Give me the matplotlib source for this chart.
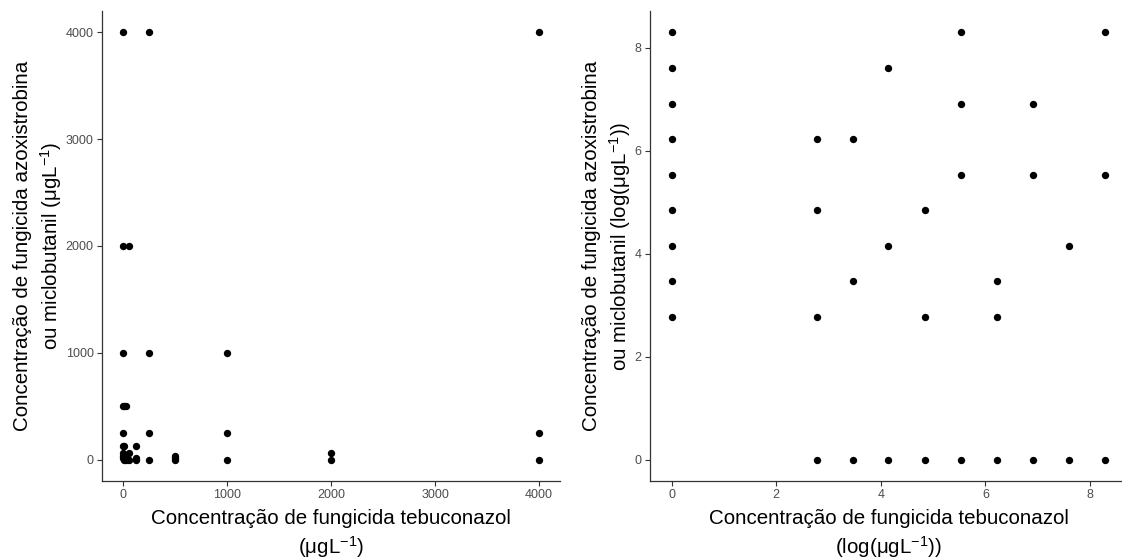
import numpy as np
import matplotlib
matplotlib.use("Agg")
import matplotlib.pyplot as plt

plt.rcParams['font.family'] = ['Liberation Sans', 'DejaVu Sans']
plt.rcParams['mathtext.fontset'] = 'custom'
plt.rcParams['mathtext.rm'] = 'Liberation Sans'
plt.rcParams['mathtext.it'] = 'Liberation Sans'

# Concentrations (µg/L)
tebuconazol = [0, 0, 0, 0, 0, 0, 0, 0, 0,
               15, 15, 15, 15,
               31, 31, 31,
               62, 62, 62,
               125, 125, 125,
               250, 250, 250, 250,
               500, 500, 500,
               1000, 1000, 1000,
               2000, 2000,
               4000, 4000, 4000]
azoxistrobina = [15, 31, 62, 125, 250, 500, 1000, 2000, 4000,
                 0, 15, 125, 500,
                 0, 31, 500,
                 0, 62, 2000,
                 0, 15, 125,
                 0, 250, 1000, 4000,
                 0, 15, 31,
                 0, 250, 1000,
                 0, 62,
                 0, 250, 4000]

left_ticks = [0, 1000, 2000, 3000, 4000]
right_ticks = [0, 2, 4, 6, 8]

x = np.array(tebuconazol, dtype=float)
y = np.array(azoxistrobina, dtype=float)
lx = np.log(x + 1)
ly = np.log(y + 1)

fig = plt.figure(figsize=(11.22, 5.6), dpi=100)
W, H = 1122, 560
ax1 = fig.add_axes([102 / W, (H - 481) / H, (560 - 102) / W, (481 - 11) / H])
ax2 = fig.add_axes([650 / W, (H - 481) / H, (1127 - 650) / W, (481 - 11) / H])

tick_col = '#4D4D4D'
for ax in (ax1, ax2):
    for s in ('top', 'right'):
        ax.spines[s].set_visible(False)
    for s in ('left', 'bottom'):
        ax.spines[s].set_linewidth(0.9)
        ax.spines[s].set_color('#333333')
    ax.tick_params(axis='both', length=3.5, width=0.8, color='#333333',
                   labelsize=9, labelcolor=tick_col, pad=2.5)

lab_kw = dict(fontsize=14.8, linespacing=1.3)

ax1.scatter(x, y, s=28, color='black', linewidths=0, zorder=3)
ax1.set_xlim(-200, 4200)
ax1.set_ylim(-200, 4200)
ax1.set_xticks(left_ticks)
ax1.set_yticks(left_ticks)
ax1.set_xlabel('Concentração de fungicida tebuconazol\n(μgL$^{-1}$)',
               labelpad=5.5, **lab_kw)
ax1.set_ylabel('Concentração de fungicida azoxistrobina\nou miclobutanil (μgL$^{-1}$)',
               labelpad=1, **lab_kw)

ax2.scatter(lx, ly, s=28, color='black', linewidths=0, zorder=3, clip_on=False)
ax2.set_xlim(-0.4147, 8.7087)
ax2.set_ylim(-0.4147, 8.7087)
ax2.set_xticks(right_ticks)
ax2.set_yticks(right_ticks)
ax2.set_xlabel('Concentração de fungicida tebuconazol\n(log(μgL$^{-1}$))',
               labelpad=5.5, **lab_kw)
ax2.set_ylabel('Concentração de fungicida azoxistrobina\nou miclobutanil (log(μgL$^{-1}$))',
               labelpad=1, **lab_kw)

fig.savefig('out.png', dpi=100)
